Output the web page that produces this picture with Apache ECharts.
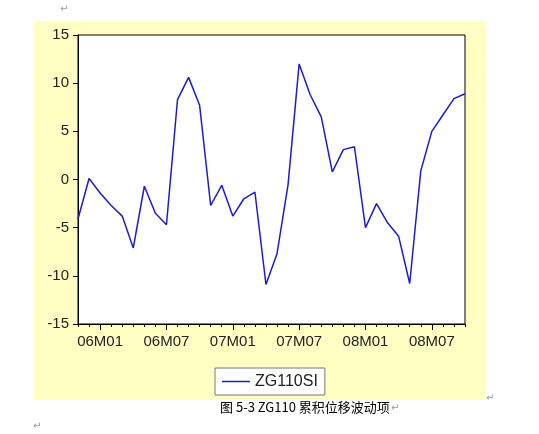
<!DOCTYPE html>
<html>
<head>
<meta charset="utf-8">
<script src="https://cdn.jsdelivr.net/npm/echarts@6/dist/echarts.min.js"></script>
<style>
  html, body { margin: 0; padding: 0; background: #fff; }
  #chart { width: 539px; height: 434px; }
</style>
</head>
<body>
<div id="chart"></div>
<script>
// monthly periods 05M11 .. 08M10
const months = ['05M11','05M12',
  '06M01','06M02','06M03','06M04','06M05','06M06','06M07','06M08','06M09','06M10','06M11','06M12',
  '07M01','07M02','07M03','07M04','07M05','07M06','07M07','07M08','07M09','07M10','07M11','07M12',
  '08M01','08M02','08M03','08M04','08M05','08M06','08M07','08M08','08M09','08M10'];
const zg110si = [-4.1, 0.1, -1.4, -2.7, -3.8, -7.1, -0.7, -3.5, -4.7, 8.3, 10.6, 7.7,
  -2.7, -0.6, -3.8, -2.0, -1.3, -10.9, -7.7, -0.5, 12.0, 8.8, 6.5, 0.8,
  3.1, 3.4, -5.0, -2.5, -4.5, -5.9, -10.8, 0.9, 5.0, 6.7, 8.4, 8.9];
const labelMonths = ['06M01','06M07','07M01','07M07','08M01','08M07'];
const seriesName = 'ZG110SI';
const caption = '图 5-3 ZG110 累积位移波动项';

const isMajor = (idx, val) => labelMonths.indexOf(val) >= 0;

let myChart = echarts.init(document.getElementById('chart'));
myChart.setOption({
    animation: false,
    backgroundColor: '#fff',
    graphic: [
        {
            type: 'rect', z: -10, silent: true,
            shape: { x: 34, y: 21, width: 451, height: 379 },
            style: { fill: '#ffffc4' }
        },
        {
            type: 'text', left: 220, top: 401,
            style: { text: caption, fill: '#000', font: '13px "Noto Sans CJK SC"' }
        },
        { type: 'text', left: 60, top: 4, style: { text: '↵', fill: '#999', font: '10px "DejaVu Sans"' } },
        { type: 'text', left: 486, top: 393, style: { text: '↵', fill: '#999', font: '10px "DejaVu Sans"' } },
        { type: 'text', left: 391, top: 403, style: { text: '↵', fill: '#999', font: '10px "DejaVu Sans"' } },
        { type: 'text', left: 33, top: 421, style: { text: '↵', fill: '#999', font: '10px "DejaVu Sans"' } }
    ],
    grid: {
        left: 78, top: 35, right: 74, bottom: 110,
        show: true, backgroundColor: '#fff', borderColor: '#000', borderWidth: 1
    },
    legend: {
        data: [{ name: seriesName, icon: 'path://M0,0L28,0L28,1.5L0,1.5Z' }],
        left: 215, top: 368,
        padding: [5, 7, 5, 7],
        backgroundColor: '#fff',
        borderColor: '#777', borderWidth: 1,
        itemWidth: 28, itemHeight: 1.5, itemGap: 0,
        textStyle: { fontFamily: 'Liberation Sans', fontSize: 16, color: '#222', lineHeight: 17 }
    },
    xAxis: [
        {
            type: 'category', data: months, boundaryGap: false,
            axisLine: { onZero: false, lineStyle: { color: '#000', width: 1 } },
            axisTick: { interval: 0, length: 3, lineStyle: { color: '#000' } },
            axisLabel: {
                interval: isMajor, margin: 10,
                fontFamily: 'Liberation Sans', fontSize: 15, color: '#222'
            },
            splitLine: { show: false }
        },
        {
            type: 'category', data: months, boundaryGap: false, position: 'bottom',
            axisLine: { show: false, onZero: false },
            axisTick: { interval: isMajor, length: 6, lineStyle: { color: '#000' } },
            axisLabel: { show: false },
            splitLine: { show: false }
        }
    ],
    yAxis: {
        type: 'value', min: -15, max: 15, interval: 5,
        axisLine: { show: true, lineStyle: { color: '#000' } },
        axisTick: { show: true, length: 5, lineStyle: { color: '#000' } },
        axisLabel: { margin: 9, fontFamily: 'Liberation Sans', fontSize: 15, color: '#222' },
        splitLine: { show: false }
    },
    series: [
        {
            name: seriesName, type: 'line', data: zg110si,
            symbol: 'none', showSymbol: false,
            lineStyle: { color: '#1c1cc8', width: 1.5 },
            itemStyle: { color: '#1c1cc8' }
        }
    ]
});
</script>
</body>
</html>
